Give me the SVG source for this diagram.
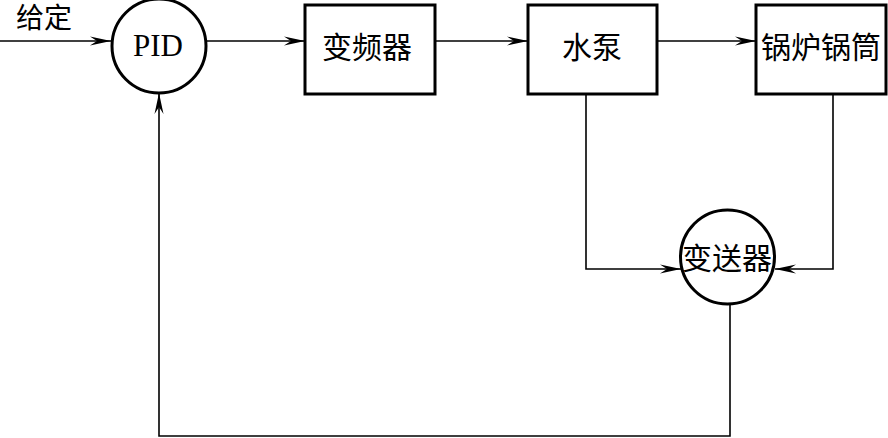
<svg xmlns="http://www.w3.org/2000/svg" width="888" height="438" viewBox="0 0 888 438">
<style>
.box{fill:#fff;stroke:#000;stroke-width:3}
.ln{fill:none;stroke:#000;stroke-width:1.6}
.t{font-family:"Liberation Serif","Noto Sans CJK SC",serif;font-size:30px;fill:#000;text-anchor:middle;dominant-baseline:central}
</style>
<defs>
<marker id="ar" markerUnits="userSpaceOnUse" markerWidth="24" markerHeight="12" viewBox="-22 -6 24 12" refX="0" refY="0" orient="auto">
<path d="M0,0 L-21,-4.5 L-14,0 L-21,4.5 Z" fill="#000"/>
</marker>
</defs>
<rect width="888" height="438" fill="#fff"/>
<g id="connectors">
<path class="ln" d="M0,41 H111" marker-end="url(#ar)"/>
<path class="ln" d="M206,41 H305" marker-end="url(#ar)"/>
<path class="ln" d="M435,41 H528" marker-end="url(#ar)"/>
<path class="ln" d="M657,41 H756" marker-end="url(#ar)"/>
<path class="ln" d="M586,94 V269 H681" marker-end="url(#ar)"/>
<path class="ln" d="M833,94 V269 H775" marker-end="url(#ar)"/>
<path class="ln" d="M730,304 V436 H159 V93" marker-end="url(#ar)"/>
</g>
<g id="label-input">
<text class="t" x="44" y="18" style="font-size:28px">给定</text>
</g>
<g id="pid">
<circle class="box" cx="159" cy="46" r="47"/>
<text class="t" x="158" y="45" style="font-size:31px">PID</text>
</g>
<g id="inverter">
<rect class="box" x="305" y="5" width="130" height="89"/>
<text class="t" x="367" y="47">变频器</text>
</g>
<g id="pump">
<rect class="box" x="528" y="5" width="129" height="89"/>
<text class="t" x="592" y="47">水泵</text>
</g>
<g id="boiler">
<rect class="box" x="756" y="5" width="130" height="89"/>
<text class="t" x="821" y="47">锅炉锅筒</text>
</g>
<g id="transmitter">
<circle class="box" cx="727.5" cy="257" r="47"/>
<text class="t" x="727" y="258">变送器</text>
</g>
</svg>
